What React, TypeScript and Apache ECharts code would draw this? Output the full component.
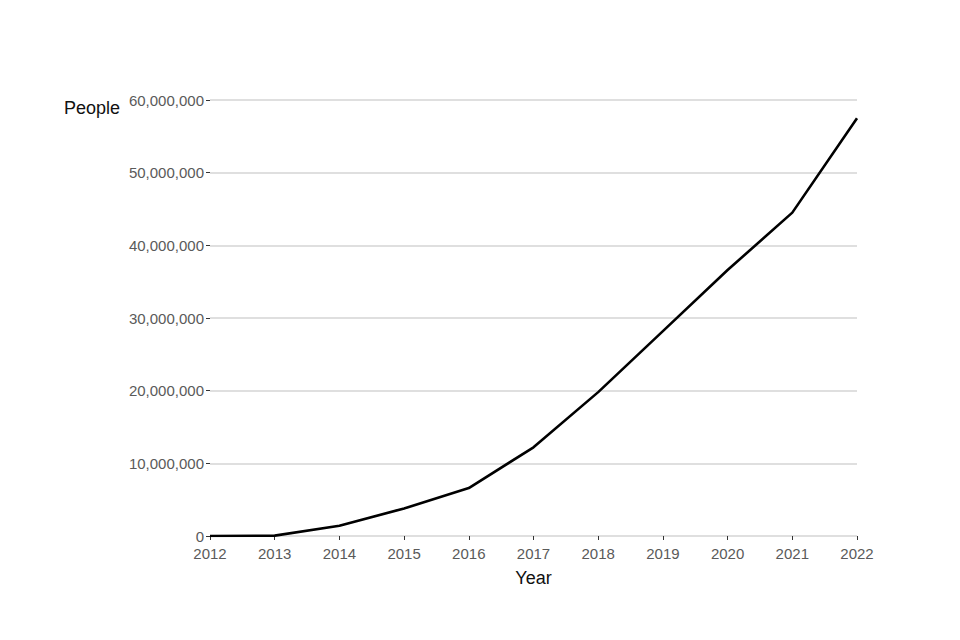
import React, { useEffect, useRef } from "react";
import * as echarts from "echarts";

const years = ["2012", "2013", "2014", "2015", "2016", "2017", "2018", "2019", "2020", "2021", "2022"];
const people = [0, 50000, 1400000, 3800000, 6600000, 12200000, 19800000, 28200000, 36600000, 44500000, 57500000];
const yTicks = { min: 0, max: 60000000, interval: 10000000 };

export default function App() {
  const ref = useRef<HTMLDivElement>(null);
  useEffect(() => {
    const chart = echarts.init(ref.current!, null, { renderer: "svg" });
    const font = "'Liberation Sans', Arial, sans-serif";
    chart.setOption({
      animation: false,
      backgroundColor: "#ffffff",
      grid: { left: 210, right: 103, top: 100, bottom: 104 },
      xAxis: {
        type: "category",
        data: years,
        boundaryGap: false,
        name: "Year",
        nameLocation: "middle",
        nameGap: 33,
        nameTextStyle: { color: "#111", fontSize: 18, fontFamily: font },
        axisLine: { show: false },
        axisTick: { show: true, length: 4, lineStyle: { color: "#333" } },
        axisLabel: { color: "#5a5a5a", fontSize: 15, lineHeight: 15, fontFamily: font, margin: 10 },
        splitLine: { show: false },
      },
      yAxis: {
        type: "value",
        min: yTicks.min,
        max: yTicks.max,
        interval: yTicks.interval,
        axisLine: { show: false },
        axisTick: { show: true, length: 4, lineStyle: { color: "#333" } },
        axisLabel: {
          color: "#5a5a5a",
          fontSize: 15,
          lineHeight: 14,
          fontFamily: font,
          margin: 6,
          formatter: (v: number) => v.toLocaleString("en-US"),
        },
        splitLine: { show: true, lineStyle: { color: "#d4d4d4", width: 1.5 } },
      },
      graphic: [
        {
          type: "text",
          left: 64,
          top: 99,
          style: { text: "People", fill: "#111", fontSize: 18, fontFamily: font },
        },
      ],
      series: [
        {
          type: "line",
          data: people,
          symbol: "none",
          lineStyle: { color: "#000", width: 2.6 },
        },
      ],
    });
    return () => chart.dispose();
  }, []);
  return <div ref={ref} style={{ width: 960, height: 640, marginLeft: -8, marginTop: -8 }} />;
}
